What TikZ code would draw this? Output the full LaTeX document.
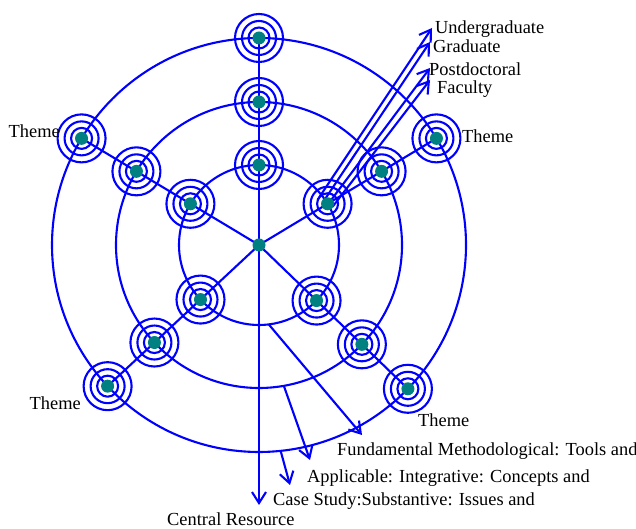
\documentclass[tikz,border=0pt]{standalone}
\usepackage{fontspec}
\setmainfont{Liberation Serif}
\usetikzlibrary{arrows.meta}
\definecolor{dotcol}{RGB}{0,128,128}
\newcommand{\target}[1]{%
  \draw[ring] (#1) circle (24) (#1) circle (17) (#1) circle (10.5);
  \fill[dotcol] (#1) circle (6.5);}

\begin{document}
\begin{tikzpicture}[x=1pt,y=1pt,
  ring/.style={blue,line width=2.1pt},
  arrow/.style={ring,-{Straight Barb[length=11pt,width=14pt]}},
  txt/.style={inner sep=0,font=\fontsize{18.4}{22}\selectfont}]
\useasboundingbox (0,0) rectangle (636,529);
\coordinate (c) at (259,284);
% spokes: inner, middle, outer target
\foreach \n/\a in {1/90,2/149,3/31,4/223,5/316}
  \path (c) ++(\a:80) coordinate (i\n) ++(\a:63) coordinate (m\n) ++(\a:64) coordinate (o\n);

% rings and spokes
\draw[ring] (c) circle (80) (c) circle (143) (c) circle (207);
\foreach \n in {2,...,5}
  \draw[ring] (c) -- (o\n);

% arrow ends
\coordinate (cr) at (259,24);
\path (c) ++(277:80) coordinate (f0) (c) ++(280:143) coordinate (a0) (c) ++(276:207) coordinate (s0);
\coordinate (f1) at (362,94);
\coordinate (a1) at (310,69);
\coordinate (s1) at (290,44);
\path (i3) ++(-10,4) coordinate (u0) (i3) ++(-5,1) coordinate (g0)
      (i3) ++(0,-1) coordinate (p0) (i3) ++(5,-3) coordinate (q0);
\coordinate (u1) at (432,501);
\coordinate (g1) at (430,487);
\coordinate (p1) at (430,461);
\coordinate (q1) at (430,449);

\draw[arrow] (o1) -- (cr);
\draw[arrow] (f0) -- (f1);
\draw[arrow] (a0) -- (a1);
\draw[arrow] (s0) -- (s1);
\draw[arrow] (u0) -- (u1);
\draw[arrow] (g0) -- (g1);
\draw[arrow] (p0) -- (p1);
\draw[arrow] (q0) -- (q1);

% targets
\foreach \n in {1,...,5} {
  \target{i\n} \target{m\n} \target{o\n}
}
\fill[dotcol] (c) circle (6.5);

% labels
\node[txt,anchor=base west] (ug) at (435,495) {Undergraduate};
\node[txt,anchor=base west] (gr) at (433,476) {Graduate};
\node[txt,anchor=base west] (pd) at (429,453) {Postdoctoral};
\node[txt,anchor=base west] (fa) at (437,435) {Faculty};
\node[txt,anchor=base east] (t2) at (60,391) {Theme};
\node[txt,anchor=base west] (t3) at (462,386) {Theme};
\node[txt,anchor=base east] (t4) at (81,119) {Theme};
\node[txt,anchor=base west] (t5) at (418,102) {Theme};
\node[txt,anchor=base west] (fm) at (337,73) {Fundamental Methodological: Tools and};
\node[txt,anchor=base west] (ap) at (307,46) {Applicable: Integrative: Concepts and};
\node[txt,anchor=base west] (cs) at (273,23) {Case Study:Substantive: Issues and};
\node[txt,anchor=base west] (cres) at (167,3.5) {Central Resource};
\end{tikzpicture}
\end{document}
